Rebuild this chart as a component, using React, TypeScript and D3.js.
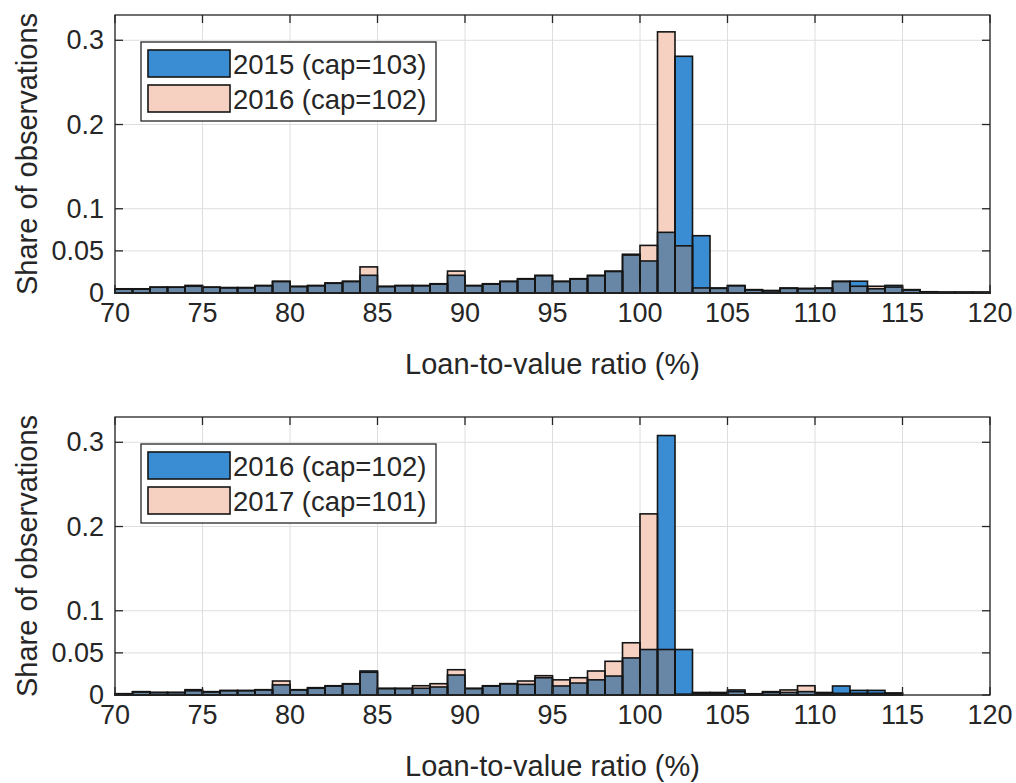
import React from "react";
import * as d3 from "d3";

// bin left edges (1pp bins), 70..119
const BINS = d3.range(70, 120);

// top panel
const SHARE_2015_TOP = [
  0.005, 0.005, 0.007, 0.007, 0.009, 0.007, 0.0065, 0.0065, 0.009, 0.014,
  0.008, 0.009, 0.012, 0.014, 0.021, 0.008, 0.009, 0.009, 0.011, 0.021,
  0.009, 0.011, 0.014, 0.017, 0.021, 0.014, 0.017, 0.021, 0.026, 0.046,
  0.038, 0.072, 0.281, 0.068, 0.006, 0.009, 0.004, 0.003, 0.006, 0.0055,
  0.006, 0.014, 0.014, 0.005, 0.009, 0.004, 0.0015, 0.001, 0.001, 0.001,
];
const SHARE_2016_TOP = [
  0.0045, 0.0045, 0.0068, 0.0068, 0.008, 0.0068, 0.006, 0.006, 0.0085, 0.0135,
  0.0075, 0.0085, 0.0115, 0.0135, 0.031, 0.0075, 0.0085, 0.0085, 0.0105, 0.026,
  0.0085, 0.0105, 0.0135, 0.0165, 0.0205, 0.0135, 0.0165, 0.0205, 0.0255, 0.045,
  0.0565, 0.31, 0.056, 0.006, 0.0055, 0.0085, 0.0035, 0.0025, 0.0055, 0.005,
  0.0055, 0.0135, 0.008, 0.008, 0.007, 0.0035, 0.001, 0.001, 0.001, 0.001,
];

// bottom panel
const SHARE_2016_BOT = [
  0.0015, 0.004, 0.003, 0.003, 0.0063, 0.004, 0.0055, 0.0055, 0.0063, 0.012,
  0.0063, 0.0087, 0.011, 0.0134, 0.0285, 0.008, 0.008, 0.008, 0.0095, 0.0237,
  0.008, 0.011, 0.0134, 0.0126, 0.0205, 0.0107, 0.0142, 0.018, 0.0225, 0.044,
  0.054, 0.308, 0.054, 0.003, 0.003, 0.006, 0.0015, 0.003, 0.003, 0.004,
  0.003, 0.0107, 0.0055, 0.0055, 0.0024, 0, 0, 0, 0, 0,
];
const SHARE_2017_BOT = [
  0.0015, 0.0035, 0.003, 0.003, 0.005, 0.0035, 0.005, 0.005, 0.006, 0.0166,
  0.006, 0.008, 0.0105, 0.013, 0.027, 0.0075, 0.0075, 0.011, 0.0134, 0.03,
  0.0075, 0.0105, 0.0134, 0.0166, 0.0229, 0.018, 0.0205, 0.0285, 0.04, 0.062,
  0.215, 0.054, 0.001, 0.002, 0.002, 0.004, 0.001, 0.004, 0.006, 0.011,
  0.002, 0.002, 0.002, 0.002, 0.002, 0, 0, 0, 0, 0,
];

const X_TICKS = d3.range(70, 121, 5);
const Y_TICKS = [0, 0.05, 0.1, 0.2, 0.3];
const Y_TICK_LABELS = ["0", "0.05", "0.1", "0.2", "0.3"];

const BLUE = "#3a8dd3";
const PEACH = "#f6d0c1";
const BOTH = "#6887a6";
const INK = "#262626";
const FONT = "'Liberation Sans', Arial, sans-serif";

const W = 1016, H = 783;
const left = 115, right = 990;

function Panel({ top, a, b, labelA, labelB }) {
  const bottom = top + 278;
  const x = d3.scaleLinear().domain([70, 120]).range([left, right]);
  const y = d3.scaleLinear().domain([0, 0.33]).range([bottom, top]);
  const bw = x(71) - x(70);
  const tick = 8;
  const lgTop = top + 27;

  return (
    <g>
      {/* grid */}
      {X_TICKS.map(t => (
        <line key={"gx" + t} x1={x(t)} x2={x(t)} y1={top} y2={bottom} stroke="#dedede" />
      ))}
      {Y_TICKS.map(t => (
        <line key={"gy" + t} x1={left} x2={right} y1={y(t)} y2={y(t)} stroke="#dedede" />
      ))}

      {/* fills */}
      {BINS.map((v, i) => (
        <g key={"f" + v}>
          {a[i] > 0 && <rect x={x(v)} width={bw} y={y(a[i])} height={y(0) - y(a[i])} fill={BLUE} />}
          {b[i] > 0 && <rect x={x(v)} width={bw} y={y(b[i])} height={y(0) - y(b[i])} fill={PEACH} />}
          {Math.min(a[i], b[i]) > 0 && (
            <rect x={x(v)} width={bw} y={y(Math.min(a[i], b[i]))}
              height={y(0) - y(Math.min(a[i], b[i]))} fill={BOTH} />
          )}
        </g>
      ))}
      {/* outlines */}
      {BINS.map((v, i) => (
        <g key={"o" + v} fill="none" stroke="#151515" strokeWidth={1.6}>
          {a[i] > 0 && <rect x={x(v)} width={bw} y={y(a[i])} height={y(0) - y(a[i])} />}
          {b[i] > 0 && <rect x={x(v)} width={bw} y={y(b[i])} height={y(0) - y(b[i])} />}
        </g>
      ))}

      {/* box + ticks */}
      <rect x={left} y={top} width={right - left} height={bottom - top} fill="none" stroke={INK} strokeWidth={1.3} />
      {X_TICKS.map(t => (
        <g key={"tx" + t} stroke={INK} strokeWidth={1.3}>
          <line x1={x(t)} x2={x(t)} y1={bottom} y2={bottom - tick} />
          <line x1={x(t)} x2={x(t)} y1={top} y2={top + tick} />
        </g>
      ))}
      {Y_TICKS.map(t => (
        <g key={"ty" + t} stroke={INK} strokeWidth={1.3}>
          <line x1={left} x2={left + tick} y1={y(t)} y2={y(t)} />
          <line x1={right} x2={right - tick} y1={y(t)} y2={y(t)} />
        </g>
      ))}

      {/* tick labels */}
      <g fontFamily={FONT} fontSize={27} fill={INK}>
        {X_TICKS.map(t => (
          <text key={"lx" + t} x={x(t)} y={bottom + 20} textAnchor="middle" dominantBaseline="central">{t}</text>
        ))}
        {Y_TICKS.map((t, i) => (
          <text key={"ly" + t} x={left - 11} y={y(t)} textAnchor="end" dominantBaseline="central">{Y_TICK_LABELS[i]}</text>
        ))}
      </g>

      {/* axis labels */}
      <text x={(left + right) / 2} y={bottom + 81} textAnchor="middle" fontFamily={FONT} fontSize={29} fill={INK}>
        Loan-to-value ratio (%)
      </text>
      <text transform={`translate(37,${(top + bottom) / 2}) rotate(-90)`} textAnchor="middle"
        fontFamily={FONT} fontSize={29} fill={INK}>
        Share of observations
      </text>

      {/* legend */}
      <rect x={141} y={lgTop} width={295} height={79} fill="#fff" stroke={INK} strokeWidth={1.3} />
      <rect x={148} y={lgTop + 8} width={82} height={27} fill={BLUE} stroke="#151515" strokeWidth={1.6} />
      <rect x={148} y={lgTop + 43} width={82} height={27} fill={PEACH} stroke="#151515" strokeWidth={1.6} />
      <g fontFamily={FONT} fontSize={27.5} fill={INK}>
        <text x={233} y={lgTop + 22} dominantBaseline="central">{labelA}</text>
        <text x={233} y={lgTop + 57} dominantBaseline="central">{labelB}</text>
      </g>
    </g>
  );
}

export default function App() {
  return (
    <svg width={W} height={H} style={{ position: "absolute", left: 0, top: 0, background: "#fff" }}>
      <Panel top={15} a={SHARE_2015_TOP} b={SHARE_2016_TOP} labelA="2015 (cap=103)" labelB="2016 (cap=102)" />
      <Panel top={417} a={SHARE_2016_BOT} b={SHARE_2017_BOT} labelA="2016 (cap=102)" labelB="2017 (cap=101)" />
    </svg>
  );
}
